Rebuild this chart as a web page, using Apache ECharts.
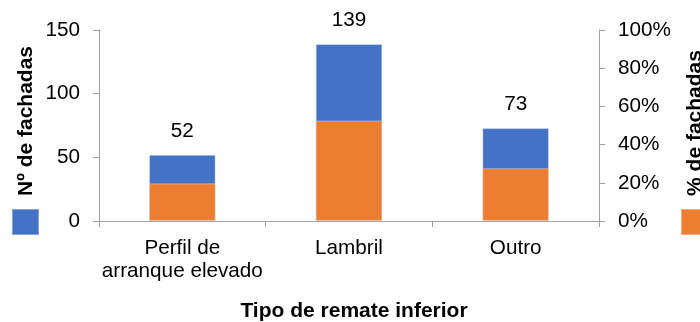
<!DOCTYPE html>
<html>
<head>
<meta charset="utf-8">
<script src="https://cdn.jsdelivr.net/npm/echarts@6/dist/echarts.min.js"></script>
<style>
  html, body { margin: 0; padding: 0; background: #fff; }
  #chart { width: 700px; height: 322px; }
</style>
</head>
<body>
<div id="chart"></div>
<script>
// Tipo de remate inferior: number of facades and share of facades
const categories = ['Perfil de\narranque elevado', 'Lambril', 'Outro'];
const countValues = [52, 139, 73];
const percentValues = [19.7, 52.65, 27.65];
const countTicks = [0, 50, 100, 150];
const percentTicks = [0, 20, 40, 60, 80, 100];

const FONT = '"Liberation Sans", Arial, sans-serif';
const FS = 20.7;
const BLUE = '#4472C4';
const ORANGE = '#ED7D31';
const AXIS_GREY = '#a0a0a0';

const chart = echarts.init(document.getElementById('chart'), null, { renderer: 'canvas' });

chart.setOption({
  animation: false,
  backgroundColor: '#ffffff',
  textStyle: { fontFamily: FONT },
  grid: { left: 99, right: 101, top: 30, bottom: 101, containLabel: false },
  legend: [
    {
      data: ['Nº de fachadas'], left: 11, top: 208, icon: 'rect',
      itemWidth: 27, itemHeight: 26, selectedMode: false,
      formatter: () => '', padding: 0
    },
    {
      data: ['% de fachadas'], left: 680, top: 208, icon: 'rect',
      itemWidth: 27, itemHeight: 26, selectedMode: false,
      formatter: () => '', padding: 0
    }
  ],
  xAxis: {
    type: 'category',
    data: categories,
    axisLine: { lineStyle: { color: AXIS_GREY } },
    axisTick: { show: true, alignWithLabel: false, length: 6, lineStyle: { color: AXIS_GREY } },
    axisLabel: { color: '#000', fontSize: FS, lineHeight: 23, margin: 16, interval: 0, fontFamily: FONT },
    splitLine: { show: false }
  },
  yAxis: [
    {
      type: 'value',
      min: countTicks[0],
      max: countTicks[countTicks.length - 1],
      interval: countTicks[1] - countTicks[0],
      axisLine: { show: true, lineStyle: { color: AXIS_GREY } },
      axisTick: { show: true, length: 6, lineStyle: { color: AXIS_GREY } },
      axisLabel: { color: '#000', fontSize: FS, margin: 19, fontFamily: FONT },
      splitLine: { show: false }
    },
    {
      type: 'value',
      position: 'right',
      min: percentTicks[0],
      max: percentTicks[percentTicks.length - 1],
      interval: percentTicks[1] - percentTicks[0],
      axisLine: { show: true, lineStyle: { color: AXIS_GREY } },
      axisTick: { show: true, length: 6, lineStyle: { color: AXIS_GREY } },
      axisLabel: { color: '#000', fontSize: FS, margin: 19, fontFamily: FONT, formatter: v => v + '%' },
      splitLine: { show: false }
    }
  ],
  series: [
    {
      name: 'Nº de fachadas',
      type: 'bar',
      yAxisIndex: 0,
      data: countValues,
      barWidth: '40%',
      barGap: '-100%',
      itemStyle: { color: BLUE, borderColor: 'rgba(255,255,255,0.35)', borderWidth: 1 },
      label: { show: true, position: 'top', distance: 13, color: '#000', fontSize: FS, fontFamily: FONT }
    },
    {
      name: '% de fachadas',
      type: 'bar',
      yAxisIndex: 1,
      data: percentValues,
      barWidth: '40%',
      itemStyle: { color: ORANGE, borderColor: 'rgba(255,255,255,0.35)', borderWidth: 1 }
    }
  ],
  graphic: [
    {
      type: 'text', x: 26, y: 121, rotation: Math.PI / 2,
      style: { text: 'Nº de fachadas', font: 'bold 21px ' + FONT, fill: '#000', textAlign: 'center', textVerticalAlign: 'middle' }
    },
    {
      type: 'text', x: 695, y: 123, rotation: Math.PI / 2,
      style: { text: '% de fachadas', font: 'bold 21px ' + FONT, fill: '#000', textAlign: 'center', textVerticalAlign: 'middle' }
    },
    {
      type: 'text', x: 354, y: 311,
      style: { text: 'Tipo de remate inferior', font: 'bold 21px ' + FONT, fill: '#000', textAlign: 'center', textVerticalAlign: 'middle' }
    }
  ]
});
</script>
</body>
</html>
